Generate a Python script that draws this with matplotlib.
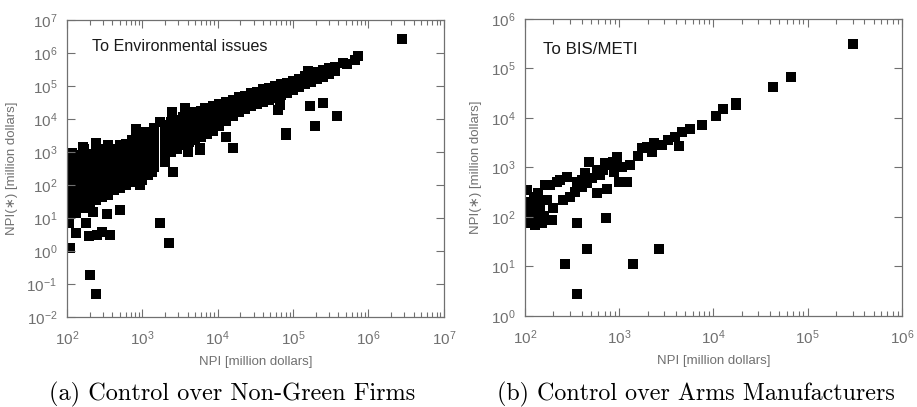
import math

import matplotlib
matplotlib.use("Agg")
import matplotlib.pyplot as plt
from matplotlib.ticker import LogLocator, NullLocator, FuncFormatter

# (a) non-green firms: NPI vs NPI(*) in million dollars
npi_a = (
    [110, 107, 107, 107, 107, 107, 107, 107, 107, 107, 117]
    + [132, 132, 132, 132, 132, 132, 132, 132, 132, 162]
    + [166, 166, 166, 166, 166, 166, 166, 166, 178]
    + [200, 195, 200, 200, 200, 200, 200, 200, 200]
    + [240, 224, 251, 240, 240, 240, 240, 240, 240, 240, 240]
    + [288, 295, 295, 295, 295, 295, 295, 295]
    + [372, 339, 355, 355, 355, 355, 355, 355, 355]
    + [427, 427, 427, 427, 427, 427, 501, 501, 501, 501, 501, 501, 501]
    + [603, 603, 603, 603, 603, 603, 724, 724, 724, 724, 724, 724]
    + [832, 832, 832, 832, 832, 832, 933, 1000, 1000, 1000, 1000, 1000, 1000]
    + [1200, 1200, 1200, 1200, 1200, 1260, 1350, 1450, 1450, 1450, 1450, 1450]
    + [1700, 1700, 2000, 2000, 2000, 2000, 2000, 2290]
    + [2400, 2400, 2400, 2400, 2450, 2570, 2880, 2880, 2880, 2880]
    + [3470, 3470, 3470, 3470, 3720, 3980, 4170, 4170, 4170, 4170]
    + [5010, 5010, 5010, 5010, 5750, 5750, 6030, 6030, 6030, 6030, 6760]
    + [7240, 7240, 7240, 7240, 8710, 8710, 8710, 8710]
    + [1.05e4, 1.05e4, 1.05e4, 1.05e4, 1.29e4, 1.29e4, 1.29e4, 1.29e4, 1.29e4, 1.32e4]
    + [1.58e4, 1.58e4, 1.58e4, 1.58e4, 1.91e4, 1.91e4, 1.91e4, 2.29e4, 2.29e4, 2.29e4]
    + [2.75e4, 2.75e4, 2.75e4, 3.31e4, 3.31e4, 3.31e4, 3.98e4, 3.98e4, 3.98e4]
    + [4.79e4, 4.79e4, 4.79e4, 5.75e4, 5.75e4, 5.75e4, 6.61e4, 6.31e4]
    + [6.92e4, 6.92e4, 6.92e4, 7.94e4, 8.13e4, 8.32e4, 8.32e4, 8.32e4]
    + [1.0e5, 1.0e5, 1.0e5, 1.2e5, 1.2e5, 1.2e5, 1.45e5, 1.45e5, 1.45e5]
    + [1.58e5, 1.66e5, 1.74e5, 1.74e5, 1.74e5, 1.95e5, 2.09e5, 2.09e5, 2.09e5]
    + [2.51e5, 2.51e5, 2.51e5, 2.51e5, 3.02e5, 3.02e5, 3.02e5, 3.55e5, 3.55e5, 3.8e5]
    + [4.57e5, 5.13e5, 6.61e5, 7.24e5, 2.75e6]
)
npi_star_a = (
    [1.23, 7.1, 11.2, 20, 35.5, 63, 112, 200, 355, 631, 933]
    + [3.5, 14.1, 25, 45, 79, 141, 251, 447, 794, 1410]
    + [20, 35.5, 63, 112, 200, 355, 631, 1260, 7.1]
    + [0.186, 2.8, 28.2, 50, 89, 158, 282, 501, 891]
    + [0.05, 15.1, 3.16, 35.5, 63, 112, 200, 355, 631, 1120, 1860]
    + [3.8, 44.7, 79, 141, 251, 447, 794, 1260]
    + [3.0, 13.2, 50, 89, 158, 282, 501, 891, 1580]
    + [71, 126, 224, 398, 708, 1260, 17.8, 79, 141, 251, 447, 794, 1580]
    + [100, 158, 282, 501, 891, 1780, 126, 224, 398, 708, 1260, 2240]
    + [178, 316, 631, 1260, 2820, 5010, 100, 141, 282, 562, 1120, 2240, 4170]
    + [200, 398, 794, 1580, 3160, 3980, 245, 355, 708, 1410, 2820, 5370]
    + [7.1, 8320, 501, 891, 1780, 3550, 6760, 1.74]
    + [1000, 2000, 3980, 7940, 16200, 245, 1260, 2510, 5010, 9330]
    + [1580, 3160, 6310, 11200, 21400, 1000, 2000, 3980, 7940, 13200]
    + [2240, 4470, 8910, 15800, 1150, 1320, 2820, 5620, 11200, 17800, 21400]
    + [3550, 7080, 14100, 21400, 4470, 8910, 16600, 25100]
    + [6030, 11200, 20000, 28200, 2820, 8910, 15800, 26300, 33100, 30200]
    + [1320, 12000, 21400, 38000, 15800, 28200, 46800, 20000, 33100, 50100]
    + [24000, 39800, 60300, 28200, 46800, 67600, 33100, 55000, 79400]
    + [38000, 63100, 89100, 44700, 72400, 1.0e5, 26300, 18600]
    + [53700, 85100, 1.12e5, 3310, 3800, 63100, 1.0e5, 1.26e5]
    + [75900, 1.17e5, 1.45e5, 93300, 1.38e5, 1.66e5, 1.12e5, 1.66e5, 2.0e5]
    + [2.82e5, 24500, 1.35e5, 2.0e5, 2.29e5, 6170, 1.58e5, 2.34e5, 2.63e5]
    + [30900, 1.91e5, 2.75e5, 3.02e5, 2.29e5, 3.16e5, 3.55e5, 2.82e5, 3.8e5, 12300]
    + [5.01e5, 4.57e5, 6.17e5, 8.13e5, 2.63e6]
)

# (b) arms manufacturers
npi_b = (
    [105, 105, 105, 105, 110, 126, 126, 126, 129, 151, 145, 145, 158, 162, 138]
    + [186, 195, 170, 200, 219, 234, 251, 282, 302, 339, 355, 355, 398, 398, 437]
    + [457, 479, 513, 575, 575, 631, 676, 708, 741, 724, 794, 851, 955, 891]
    + [1000, 1070, 1200, 1290, 1580, 1740, 1950, 2240, 2340, 2820, 3310, 3890, 4270, 4680, 5620, 7590]
    + [1.07e4, 1.26e4, 1.74e4, 1.74e4, 4.27e4, 6.61e4, 3.02e5]
    + [457, 263, 355, 1410, 2630]
)
npi_star_b = (
    [355, 200, 132, 95, 76, 251, 158, 105, 69, 76, 219, 151, 105, 447, 302]
    + [447, 87, 219, 151, 513, 562, 219, 646, 251, 316, 513, 76, 398, 562, 776]
    + [479, 1290, 603, 302, 891, 708, 891, 1200, 363, 95, 1120, 1290, 1620, 794]
    + [501, 1020, 501, 1120, 1700, 2450, 2570, 2040, 3160, 2820, 3630, 4170, 2690, 5250, 6030, 7240]
    + [1.1e4, 1.51e4, 2.0e4, 1.78e4, 4.27e4, 6.76e4, 3.09e5]
    + [22.4, 11.2, 2.75, 11.2, 22.4]
)

assert len(npi_a) == len(npi_star_a) and len(npi_b) == len(npi_star_b)

GREY = "#707070"
plt.rcParams["font.family"] = ["Liberation Sans", "DejaVu Sans"]
plt.rcParams["mathtext.default"] = "regular"


def style_axis(ax, xlim, ylim):
    ax.set_xscale("log")
    ax.set_yscale("log")
    ax.set_xlim(*xlim)
    ax.set_ylim(*ylim)
    ax.xaxis.set_major_locator(LogLocator(base=10, numticks=20))
    ax.xaxis.set_minor_locator(LogLocator(base=10, subs=range(2, 10), numticks=20))
    ax.yaxis.set_major_locator(LogLocator(base=10, numticks=20))
    ax.yaxis.set_minor_locator(NullLocator())
    fmt = FuncFormatter(lambda v, _: r"$10^{%d}$" % round(math.log10(v)))
    ax.xaxis.set_major_formatter(fmt)
    ax.yaxis.set_major_formatter(fmt)
    ax.tick_params(which="both", direction="in", top=True, right=True, color=GREY,
                   labelcolor=GREY, labelsize=11, width=0.8)
    ax.tick_params(which="major", length=6)
    ax.tick_params(which="minor", length=3.5)
    ax.tick_params(axis="x", which="major", pad=9)
    ax.tick_params(axis="y", which="major", pad=7)
    for s in ax.spines.values():
        s.set_color(GREY)
        s.set_linewidth(0.9)
    ax.set_xlabel("NPI [million dollars]", color=GREY, fontsize=9.5, labelpad=6)
    ax.set_ylabel("NPI(\u2217) [million dollars]", color=GREY, fontsize=9.5, labelpad=6)


fig = plt.figure(figsize=(9.17, 4.07), dpi=100)

ax_a = fig.add_axes([0.073, 0.221, 0.411, 0.730])
ax_a.scatter(npi_a, npi_star_a, marker="s", s=46, color="black", linewidths=0)
style_axis(ax_a, (1e2, 1e7), (1e-2, 1e7))
ax_a.text(0.066, 0.91, "To Environmental issues", transform=ax_a.transAxes,
          fontsize=11.6, color="#1a1a1a", va="center")

ax_b = fig.add_axes([0.5725, 0.224, 0.411, 0.730])
ax_b.scatter(npi_b, npi_star_b, marker="s", s=46, color="black", linewidths=0)
style_axis(ax_b, (1e2, 1e6), (1e0, 1e6))
ax_b.text(0.048, 0.895, "To BIS/METI", transform=ax_b.transAxes,
          fontsize=12.2, color="#1a1a1a", va="center")

fig.text(0.253, 0.03, "(a) Control over Non-Green Firms", family="cmr10",
         fontsize=17.5, ha="center", va="center")
fig.text(0.759, 0.03, "(b) Control over Arms Manufacturers", family="cmr10",
         fontsize=17.3, ha="center", va="center")

fig.savefig("out.png", dpi=100)
